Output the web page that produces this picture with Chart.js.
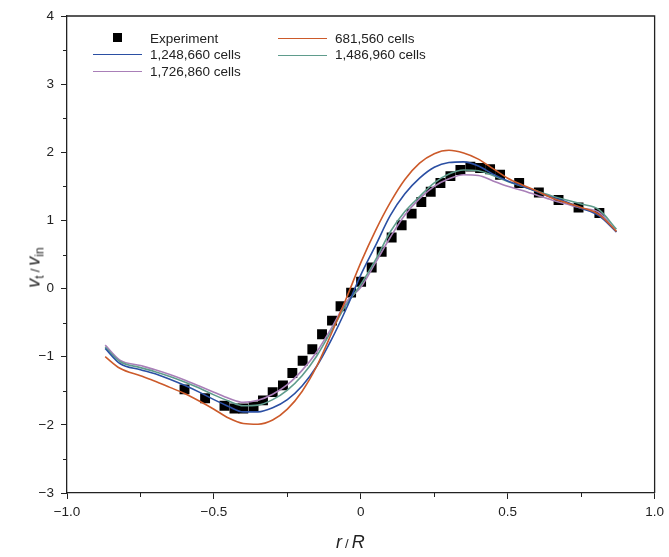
<!DOCTYPE html>
<html>
<head>
<meta charset="utf-8">
<script src="https://cdn.jsdelivr.net/npm/chart.js@4.4.1/dist/chart.umd.min.js"></script>
<style>
  html, body { margin: 0; padding: 0; background: #fff; }
  #wrap { position: relative; width: 669px; height: 557px; font-family: "Liberation Sans", Arial, sans-serif; color: #222; }
  #chart { position: absolute; left: 0; top: 0; }
  .leg { position: absolute; font-size: 13.5px; line-height: 16px; white-space: nowrap; }
  .sw { position: absolute; height: 0; border-top: 1.6px solid; width: 49px; }
  .sq { position: absolute; width: 9px; height: 9px; background: #000; }
  .ttl { position: absolute; font-size: 18px; white-space: nowrap; }
  .ttl i { font-style: italic; }
  .ttl sub { font-size: 12px; vertical-align: -4px; font-style: normal; }
  .sl { font-size: 13px; margin: 0 3px; }
</style>
</head>
<body>
<div id="wrap">
  <canvas id="chart" width="669" height="557"></canvas>

  <div class="sq" style="left:113px;top:33px;"></div>
  <div class="leg" style="left:150px;top:31px;">Experiment</div>
  <div class="sw" style="left:93px;top:54px;border-color:#2b4fa3;"></div>
  <div class="leg" style="left:150px;top:47px;">1,248,660 cells</div>
  <div class="sw" style="left:93px;top:71px;border-color:#a97fb8;"></div>
  <div class="leg" style="left:150px;top:64px;">1,726,860 cells</div>
  <div class="sw" style="left:278px;top:38px;border-color:#cc5a2a;"></div>
  <div class="leg" style="left:335px;top:31px;">681,560 cells</div>
  <div class="sw" style="left:278px;top:55px;border-color:#5f9c8c;"></div>
  <div class="leg" style="left:335px;top:47px;">1,486,960 cells</div>

  <div class="ttl" style="left:336px;top:532px;"><i>r</i><span class="sl">/</span><i>R</i></div>
  <div class="ttl" style="left:-12px;top:256px;transform:rotate(-90deg);transform-origin:50% 50%;width:94px;text-align:center;"><i>v</i><sub>t</sub><span class="sl">/</span><i>v</i><sub>in</sub></div>
</div>

<script>
// experiment
var expX = [-0.60, -0.53, -0.464, -0.43, -0.40, -0.365, -0.333, -0.30, -0.265, -0.233, -0.198, -0.165, -0.132, -0.098, -0.069, -0.033,
            0.001, 0.037, 0.071, 0.105, 0.139, 0.173, 0.206, 0.238, 0.271, 0.305, 0.339, 0.373, 0.406, 0.44, 0.474,
            0.539, 0.606, 0.673, 0.741, 0.812];
var expY = [-1.48, -1.61, -1.72, -1.76, -1.76, -1.73, -1.64, -1.52, -1.42, -1.24, -1.06, -0.89, -0.67, -0.47, -0.26, -0.06,
            0.10, 0.31, 0.54, 0.75, 0.93, 1.10, 1.27, 1.42, 1.55, 1.65, 1.74, 1.79, 1.77, 1.75, 1.67,
            1.55, 1.41, 1.30, 1.19, 1.11];

// simulation, r/R positions shared by all meshes
var simX = [-0.87, -0.82, -0.75, -0.7, -0.65, -0.6, -0.55, -0.5, -0.45, -0.4, -0.35, -0.3, -0.25, -0.2, -0.15, -0.1, -0.05,
            0, 0.05, 0.1, 0.15, 0.2, 0.25, 0.3, 0.35, 0.4, 0.45, 0.5, 0.55, 0.6, 0.65, 0.7, 0.75, 0.81, 0.87];

var cells681k = [-1.00, -1.17, -1.28, -1.36, -1.45, -1.54, -1.65, -1.77, -1.90, -1.98, -1.99, -1.93, -1.77, -1.51, -1.14, -0.66, -0.15,
                 0.38, 0.85, 1.26, 1.60, 1.84, 1.98, 2.03, 1.99, 1.90, 1.76, 1.62, 1.52, 1.43, 1.33, 1.26, 1.19, 1.09, 0.84];
var cells1248k = [-0.88, -1.10, -1.19, -1.25, -1.33, -1.42, -1.52, -1.63, -1.73, -1.81, -1.81, -1.75, -1.63, -1.43, -1.14, -0.75, -0.30,
                  0.20, 0.63, 1.07, 1.39, 1.62, 1.78, 1.85, 1.86, 1.80, 1.68, 1.58, 1.50, 1.42, 1.34, 1.27, 1.18, 1.07, 0.83];
var cells1486k = [-0.86, -1.07, -1.16, -1.22, -1.29, -1.37, -1.46, -1.56, -1.65, -1.72, -1.71, -1.63, -1.49, -1.28, -0.99, -0.62, -0.24,
                  0.06, 0.42, 0.83, 1.13, 1.35, 1.55, 1.68, 1.74, 1.73, 1.66, 1.57, 1.50, 1.43, 1.36, 1.30, 1.24, 1.16, 0.87];
var cells1726k = [-0.83, -1.05, -1.13, -1.19, -1.26, -1.34, -1.43, -1.52, -1.61, -1.67, -1.64, -1.55, -1.41, -1.20, -0.93, -0.58, -0.20,
                  0.02, 0.38, 0.75, 1.08, 1.32, 1.50, 1.61, 1.67, 1.66, 1.58, 1.50, 1.44, 1.37, 1.30, 1.24, 1.18, 1.12, 0.83];

var xTicks = [-1, -0.5, 0, 0.5, 1];
var yTicks = [-3, -2, -1, 0, 1, 2, 3, 4];

function pts(xs, ys) {
	return xs.map(function( x, i ) { return {x: x, y: ys[i]}; });
}

function fmt(v, dec) {
	var s = v === 0 ? "0" : Math.abs(v).toFixed(dec);
	return v < 0 ? "\u2212" + s : s;
}

function line(data, color) {
	return {
		type: "line",
		data: pts(simX, data),
		borderColor: color,
		borderWidth: 1.6,
		pointRadius: 0,
		fill: false,
		cubicInterpolationMode: "monotone"
	};
}

// frame on top/right plus minor ticks
var framePlugin = {
	id: "frame",
	afterDraw: function( chart ) {
		var c = chart.ctx, a = chart.chartArea;
		var xs = chart.scales.x, ys = chart.scales.y;
		c.save();
		c.strokeStyle = "#222";
		c.lineWidth = 1.3;
		c.beginPath();
		c.moveTo(a.left, a.top); c.lineTo(a.right, a.top); c.lineTo(a.right, a.bottom);
		c.stroke();
		c.lineWidth = 1;
		c.beginPath();
		for ( var v = -0.75; v < 1; v += 0.5 ) {
			var px = Math.round(xs.getPixelForValue(v)) + 0.5;
			c.moveTo(px, a.bottom); c.lineTo(px, a.bottom + 4);
		}
		for ( var w = -2.5; w < 4; w += 1 ) {
			var py = Math.round(ys.getPixelForValue(w)) + 0.5;
			c.moveTo(a.left, py); c.lineTo(a.left - 4, py);
		}
		c.stroke();
		c.restore();
	}
};

var tickFont = {family: "'Liberation Sans', Arial, sans-serif", size: 13.5};

new Chart(document.getElementById("chart"), {
	type: "scatter",
	data: {
		datasets: [
			line(cells681k, "#cc5a2a"),
			line(cells1248k, "#2b4fa3"),
			line(cells1486k, "#5f9c8c"),
			line(cells1726k, "#a97fb8"),
			{
				type: "scatter",
				data: pts(expX, expY),
				pointStyle: "rect",
				pointRadius: 7,
				backgroundColor: "#000",
				borderColor: "#000",
				borderWidth: 0
			}
		]
	},
	options: {
		responsive: false,
		animation: false,
		layout: {padding: {left: 0, right: 10, top: 16, bottom: 0}},
		plugins: {legend: {display: false}, tooltip: {enabled: false}},
		scales: {
			x: {
				type: "linear", min: -1, max: 1,
				afterFit: function( s ) { s.height = 64; },
				afterBuildTicks: function( s ) { s.ticks = xTicks.map(function( v ) { return {value: v}; }); },
				grid: {drawOnChartArea: false, drawTicks: true, tickLength: 6, color: "#222", lineWidth: 1},
				border: {display: true, color: "#222", width: 1.3},
				ticks: {font: tickFont, color: "#222", padding: 5, maxRotation: 0,
					callback: function( v ) { return fmt(v, 1); }}
			},
			y: {
				type: "linear", min: -3, max: 4,
				afterFit: function( s ) { s.width = 67; },
				afterBuildTicks: function( s ) { s.ticks = yTicks.map(function( v ) { return {value: v}; }); },
				grid: {drawOnChartArea: false, drawTicks: true, tickLength: 6, color: "#222", lineWidth: 1},
				border: {display: true, color: "#222", width: 1.3},
				ticks: {font: tickFont, color: "#222", padding: 7,
					callback: function( v ) { return fmt(v, 0); }}
			}
		}
	},
	plugins: [framePlugin]
});
</script>
</body>
</html>
